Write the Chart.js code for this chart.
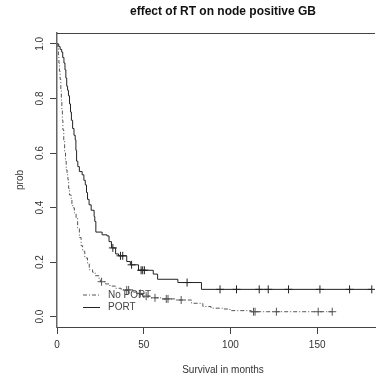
<!DOCTYPE html>
<html>
<head>
<meta charset="utf-8">
<script src="https://cdn.jsdelivr.net/npm/chart.js@4.4.1/dist/chart.umd.min.js"></script>
<style>
  html, body { margin: 0; padding: 0; background: #fff; }
  #km { display: block; }
</style>
</head>
<body>
<canvas id="km" width="380" height="379"></canvas>
<script>
"use strict";

// Kaplan-Meier steps (months, survival)
const portTime = [0, 1, 1.8, 2.7, 3.3, 4, 4.6, 5.1, 5.6, 6.1, 6.6, 7.2, 7.8, 8.3, 9, 9.8, 10.5, 10.9, 11.3, 12,
    12.9, 14.5, 15.5, 16.3, 17, 17.6, 18.5, 19.7, 21.4, 21.8, 22.4, 26, 28.8, 30, 31.4, 33.8, 35.5, 40.2, 42.3,
    47, 55.5, 58, 69.7, 83.3, 181.5];
const portSurv = [1.0, 0.99, 0.98, 0.97, 0.95, 0.93, 0.905, 0.875, 0.845, 0.83, 0.81, 0.78, 0.75, 0.72, 0.69, 0.665,
    0.648, 0.61, 0.57, 0.55, 0.532, 0.52, 0.50, 0.483, 0.455, 0.43, 0.41, 0.39, 0.367, 0.349, 0.31, 0.30, 0.296,
    0.275, 0.252, 0.23, 0.223, 0.202, 0.19, 0.17, 0.156, 0.137, 0.125, 0.10, 0.10];
const portCensor = [32.2, 36.6, 37.9, 43, 48.5, 49.4, 50.4, 75, 94, 103.5, 116.6, 121.8, 133.5, 151.6, 168.7, 181.5];

const noPortTime = [0, 0.5, 0.8, 1.1, 1.4, 1.8, 2.2, 2.5, 2.8, 3.1, 3.4, 3.9, 4.4, 4.9, 5.3, 5.8, 6.3, 6.7, 7.2,
    8.2, 8.6, 9.1, 10, 11, 11.9, 12.9, 13.9, 14.8, 16, 17.6, 18.6, 20.5, 22, 24.3, 25, 28, 30.5, 33.8, 37, 44,
    46, 50, 54, 60, 68, 77.6, 84.1, 88.8, 95.4, 99.7, 112, 158.7];
const noPortSurv = [1.0, 0.985, 0.96, 0.93, 0.90, 0.87, 0.83, 0.79, 0.755, 0.72, 0.685, 0.645, 0.60, 0.57, 0.538,
    0.52, 0.502, 0.47, 0.446, 0.428, 0.41, 0.399, 0.38, 0.362, 0.325, 0.29, 0.26, 0.24, 0.215, 0.196, 0.172,
    0.163, 0.15, 0.135, 0.128, 0.12, 0.112, 0.104, 0.098, 0.09, 0.085, 0.075, 0.069, 0.065, 0.061, 0.049,
    0.037, 0.031, 0.028, 0.022, 0.018, 0.018];
const noPortCensor = [25.7, 40.2, 41.3, 48, 51.4, 56.5, 63, 64, 71.6, 113.3, 114.2, 126.5, 150.6, 158.7];

const xTicks = [0, 50, 100, 150];
const yTicks = [0, 0.2, 0.4, 0.6, 0.8, 1.0];
const yTickLabels = ['0.0', '0.2', '0.4', '0.6', '0.8', '1.0'];
const seriesLabels = ['No PORT', 'PORT'];

const FONT = '"Liberation Sans", Arial, Helvetica, sans-serif';

function stepPoints(times, surv) {
    return times.map((t, i) => ({ x: t, y: surv[i] }));
}

// censor mark sits on the curve value at that time
function censorPoints(censor, times, surv) {
    return censor.map(c => {
        let k = 0;
        for (let i = 0; i < times.length; i++) {
            if (times[i] <= c) k = i;
        }
        return { x: c, y: surv[k] };
    });
}

const extras = {
    id: 'extras',
    afterDraw(chart) {
        const ctx = chart.ctx;
        const area = chart.chartArea;
        const ys = chart.scales.y;
        ctx.save();

        // top of the box
        ctx.strokeStyle = '#444';
        ctx.lineWidth = 1;
        ctx.beginPath();
        ctx.moveTo(area.left, area.top + 0.5);
        ctx.lineTo(area.right, area.top + 0.5);
        ctx.stroke();

        // title
        ctx.fillStyle = '#111';
        ctx.textAlign = 'center';
        ctx.textBaseline = 'middle';
        ctx.font = 'bold 12px ' + FONT;
        ctx.fillText('effect of RT on node positive GB', 223, 12);

        ctx.fillStyle = '#333';
        ctx.font = '10px ' + FONT;
        ctx.fillText('Survival in months', 223, 370);

        // rotated y labels
        ctx.save();
        ctx.translate(20, 180);
        ctx.rotate(-Math.PI / 2);
        ctx.fillText('prob', 0, 0);
        ctx.restore();

        yTicks.forEach((v, i) => {
            const py = ys.getPixelForValue(v);
            ctx.save();
            ctx.translate(40, py);
            ctx.rotate(-Math.PI / 2);
            ctx.fillText(yTickLabels[i], 0, 0);
            ctx.restore();
        });

        // legend
        const legend = [
            { y: 295, dash: [4, 2, 1, 2], color: '#555' },
            { y: 307.5, dash: [], color: '#222' }
        ];
        legend.forEach((l, i) => {
            ctx.strokeStyle = l.color;
            ctx.setLineDash(l.dash);
            ctx.beginPath();
            ctx.moveTo(83, l.y);
            ctx.lineTo(100, l.y);
            ctx.stroke();
            ctx.setLineDash([]);
            ctx.fillStyle = '#444';
            ctx.textAlign = 'left';
            ctx.fillText(seriesLabels[i], 108, l.y);
        });
        ctx.restore();
    }
};

new Chart(document.getElementById('km'), {
    type: 'scatter',
    data: {
        datasets: [{
            type: 'line',
            label: seriesLabels[0],
            data: stepPoints(noPortTime, noPortSurv),
            stepped: true,
            borderColor: '#555',
            borderWidth: 1,
            borderDash: [4, 2, 1, 2],
            pointRadius: 0,
            fill: false
        }, {
            type: 'line',
            label: seriesLabels[1],
            data: stepPoints(portTime, portSurv),
            stepped: true,
            borderColor: '#222',
            borderWidth: 1,
            pointRadius: 0,
            fill: false
        }, {
            label: 'No PORT censored',
            data: censorPoints(noPortCensor, noPortTime, noPortSurv),
            pointStyle: 'cross',
            pointRadius: 4,
            borderColor: '#555',
            borderWidth: 1
        }, {
            label: 'PORT censored',
            data: censorPoints(portCensor, portTime, portSurv),
            pointStyle: 'cross',
            pointRadius: 4,
            borderColor: '#222',
            borderWidth: 1
        }]
    },
    options: {
        responsive: false,
        animation: false,
        layout: { padding: { top: 33, left: 0, right: 0, bottom: 0 } },
        plugins: {
            legend: { display: false },
            tooltip: { enabled: false },
            title: { display: false }
        },
        scales: {
            x: {
                type: 'linear',
                min: 0,
                max: 183.35,
                afterBuildTicks: (s) => { s.ticks = xTicks.map(v => ({ value: v })); },
                afterFit: (s) => { s.height = 52; },
                grid: { drawOnChartArea: false, drawTicks: true, tickLength: 7, color: '#444' },
                border: { display: true, color: '#444' },
                ticks: { color: '#333', font: { family: FONT, size: 10 }, padding: 5, maxRotation: 0 }
            },
            y: {
                type: 'linear',
                min: -0.038,
                max: 1.04,
                afterBuildTicks: (s) => { s.ticks = yTicks.map(v => ({ value: v })); },
                afterFit: (s) => { s.width = 57; },
                grid: { drawOnChartArea: false, drawTicks: true, tickLength: 7, color: '#444' },
                border: { display: true, color: '#666', width: 1.5 },
                ticks: { display: false }
            }
        }
    },
    plugins: [extras]
});
</script>
</body>
</html>
